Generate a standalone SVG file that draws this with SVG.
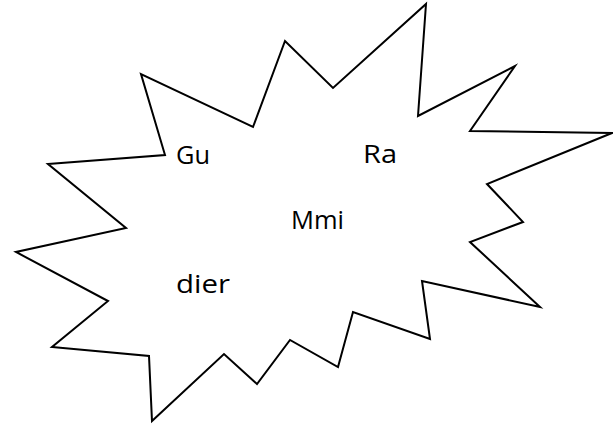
<svg xmlns="http://www.w3.org/2000/svg" width="613" height="428" viewBox="0 0 613 428">
<style>
.star{fill:#fff;stroke:#000;stroke-width:2;stroke-linejoin:miter;stroke-miterlimit:20}
.t{font-family:'Comic Sans MS','Open Sans','DejaVu Sans',sans-serif;font-size:26px;fill:#000}
</style>
<rect width="613" height="428" fill="#fff"/>
<g id="burst">
<polygon class="star" points="48,164 165,155 141,74 253,127 285,41 333,88 426,4 418,116 515,66 470,131 612,133 487,184 523,222 470,242 540,307 422,281 430,339 353,312 338,367 290,340 257,384 224,354 152,421 149,356 52,347 108,301 16,252 126,228"/>
</g>
<g id="labels">
<text class="t" x="176" y="164" textLength="34" lengthAdjust="spacingAndGlyphs">Gu</text>
<text class="t" x="363" y="163" textLength="34" lengthAdjust="spacingAndGlyphs">Ra</text>
<text class="t" x="291" y="229" textLength="53" lengthAdjust="spacingAndGlyphs">Mmi</text>
<text class="t" x="176" y="293" textLength="54" lengthAdjust="spacingAndGlyphs">dier</text>
</g>
</svg>
